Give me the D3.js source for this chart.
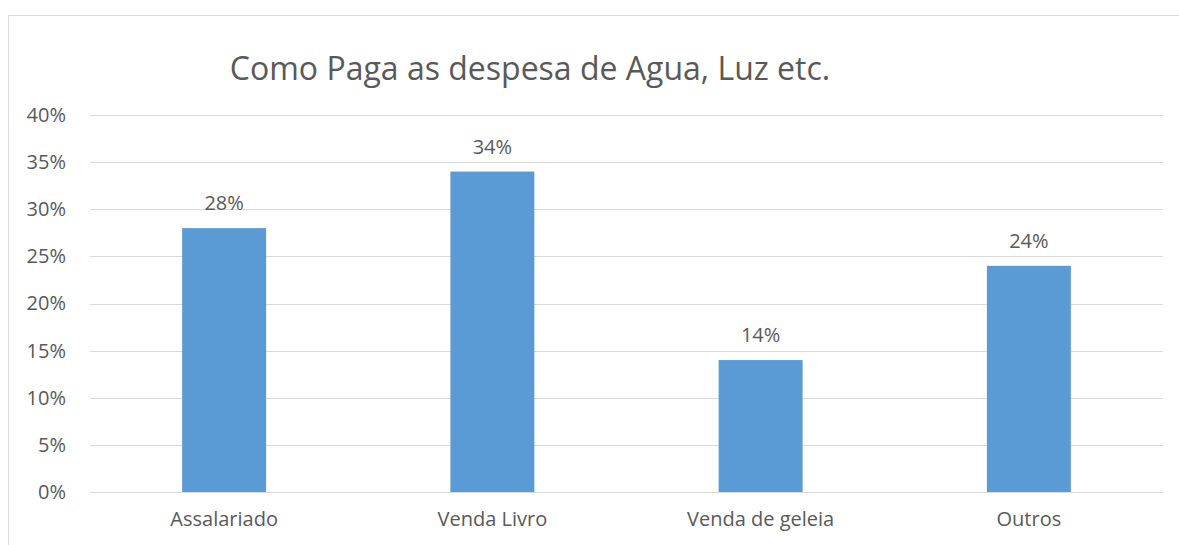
<!DOCTYPE html>
<html>
<head>
<meta charset="utf-8">
<script src="https://cdn.jsdelivr.net/npm/d3@7"></script>
<style>
  body { margin: 0; background: #fff; }
  text { font-family: "Open Sans", "Liberation Sans", sans-serif; fill: #595959; }
</style>
</head>
<body>
<div id="chart"></div>
<script>
// data
const categories = ['Assalariado', 'Venda Livro', 'Venda de geleia', 'Outros'];
const values = [0.28, 0.34, 0.14, 0.24];
const yTicks = [0, 0.05, 0.10, 0.15, 0.20, 0.25, 0.30, 0.35, 0.40];
const title = 'Como Paga as despesa de Agua, Luz etc.';

const width = 1179;
const height = 545;
const margin = {top: 115, right: 16, bottom: 53, left: 90};
const fontSize = '20px';

const svg = d3.select('#chart').append('svg')
    .attr('width', width)
    .attr('height', height);

// chart border
svg.append('rect')
    .attr('x', 8.5).attr('y', 15.5)
    .attr('width', width + 20).attr('height', height + 20)
    .attr('fill', 'none')
    .attr('stroke', '#d9d9d9');

const x = d3.scaleBand()
    .domain(categories)
    .range([margin.left, width - margin.right])
    .paddingInner(0.687)
    .paddingOuter(0.3435);

const y = d3.scaleLinear()
    .domain([0, 0.4])
    .range([height - margin.bottom, margin.top]);

// gridlines
svg.append('g')
  .selectAll('line')
  .data(yTicks)
  .join('line')
    .attr('x1', margin.left)
    .attr('x2', width - margin.right)
    .attr('y1', d => Math.round(y(d)) + 0.5)
    .attr('y2', d => Math.round(y(d)) + 0.5)
    .attr('stroke', '#d9d9d9')
    .attr('stroke-width', 1);

// y axis labels
const yAxis = d3.axisLeft(y)
    .tickValues(yTicks)
    .tickSize(0)
    .tickPadding(24)
    .tickFormat(d3.format('.0%'));

svg.append('g')
    .attr('transform', `translate(${margin.left},0)`)
    .call(yAxis)
    .call(g => g.select('.domain').remove())
    .selectAll('text')
    .style('font-size', fontSize)
    .style('font-family', '"Open Sans", sans-serif')
    .attr('fill', '#595959');

// x axis labels
const xAxis = d3.axisBottom(x).tickSize(0).tickPadding(20);
svg.append('g')
    .attr('transform', `translate(0,${height - margin.bottom})`)
    .call(xAxis)
    .call(g => g.select('.domain').remove())
    .selectAll('text')
    .style('font-size', fontSize)
    .style('font-family', '"Open Sans", sans-serif')
    .attr('fill', '#595959');

// bars
svg.selectAll('rect.bar')
  .data(values)
  .join('rect')
    .attr('class', 'bar')
    .attr('x', (d, i) => x(categories[i]))
    .attr('width', x.bandwidth())
    .attr('y', d => y(d))
    .attr('height', d => y(0) - y(d))
    .attr('fill', '#5b9bd5');

// value labels
svg.selectAll('text.valueLabel')
  .data(values)
  .join('text')
    .attr('class', 'valueLabel')
    .attr('x', (d, i) => x(categories[i]) + x.bandwidth() / 2)
    .attr('y', d => y(d) - 18)
    .attr('text-anchor', 'middle')
    .style('font-size', fontSize)
    .text(d => d3.format('.0%')(d));

// title
svg.append('text')
    .attr('x', 530)
    .attr('y', 80)
    .attr('text-anchor', 'middle')
    .style('font-size', '32px')
    .text(title);
</script>
</body>
</html>
